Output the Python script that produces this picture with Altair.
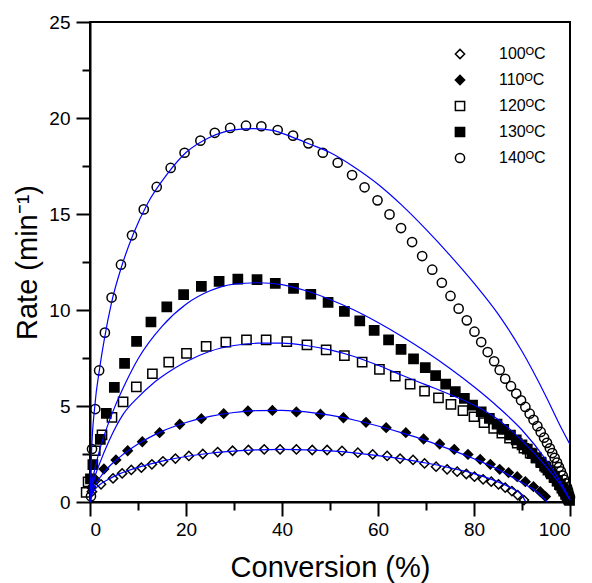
import altair as alt
import pandas as pd

labels = ["100ᴼC", "110ᴼC", "120ᴼC", "130ᴼC", "140ᴼC"]
shapes = ["diamond", "diamond", "square", "square", "circle"]
fills = ["transparent", "black", "transparent", "black", "transparent"]
strokes = ["black", "black", "black", "black", "black"]
sizes = [85, 85, 80, 80, 115]

# measured points (conversion %, rate min^-1)
conv_100 = [0.4, 2.3, 4.8, 6.7, 8.6, 10.7, 12.9, 15.2, 17.8, 20.6, 23.5, 26.6, 29.7, 33.0, 36.3, 39.6,
            43.0, 46.3, 49.4, 52.5, 55.8, 58.9, 61.9, 64.6, 67.3, 69.7, 72.1, 74.4, 76.5, 78.4, 80.1,
            81.9, 83.6, 85.1, 86.5, 87.9, 89.1, 90.4]
rate_100 = [0.54, 0.92, 1.23, 1.49, 1.67, 1.79, 1.96, 2.12, 2.26, 2.4, 2.5, 2.6, 2.67, 2.71, 2.74, 2.74,
            2.74, 2.71, 2.71, 2.66, 2.57, 2.48, 2.4, 2.26, 2.19, 2.01, 1.84, 1.7, 1.58, 1.46, 1.32,
            1.18, 1.06, 0.92, 0.75, 0.57, 0.36, 0.1]

conv_110 = [0.3, 1.0, 2.9, 5.4, 7.85, 10.9, 14.5, 18.7, 23.2, 27.85, 32.9, 38.0, 43.0, 48.0, 52.8, 57.5,
            61.7, 65.8, 69.5, 72.85, 75.9, 78.75, 81.3, 83.4, 85.35, 87.2, 89.0, 90.7, 92.4, 93.8, 94.9]
rate_110 = [0.75, 1.2, 1.72, 2.19, 2.67, 3.14, 3.61, 4.05, 4.34, 4.6, 4.74, 4.77, 4.69, 4.57, 4.39, 4.15,
            3.87, 3.61, 3.28, 3.02, 2.74, 2.48, 2.22, 1.96, 1.7, 1.53, 1.32, 1.06, 0.8, 0.54, 0.28]

conv_120 = [-0.8, -0.4, 1.1, 2.5, 4.58, 6.9, 9.65, 13.0, 16.4, 20.1, 24.2, 28.3, 32.6, 36.7, 41.0, 45.2,
            49.2, 53.0, 56.7, 60.3, 63.6, 66.7, 69.7, 72.6, 75.2, 77.7, 80.0, 82.1, 84.1, 85.8, 87.4,
            89.0, 90.4, 91.7, 92.9, 94.0, 95.0, 95.9, 96.7, 97.4, 98.0, 98.6, 99.1, 99.5, 99.8]
rate_120 = [0.5, 1.05, 2.67, 3.5, 4.41, 5.22, 6.0, 6.68, 7.29, 7.74, 8.11, 8.33, 8.44, 8.44, 8.35, 8.18,
            7.92, 7.62, 7.29, 6.91, 6.55, 6.14, 5.77, 5.42, 5.09, 4.76, 4.44, 4.13, 3.84, 3.58, 3.32,
            3.06, 2.8, 2.55, 2.3, 2.05, 1.8, 1.56, 1.32, 1.1, 0.88, 0.66, 0.46, 0.28, 0.12]

conv_130 = [0.1, 0.6, 2.15, 3.4, 5.07, 7.2, 9.7, 12.7, 16.0, 19.5, 23.2, 26.9, 30.8, 34.8, 38.6, 42.4,
            46.0, 49.6, 53.0, 56.2, 59.2, 62.2, 64.8, 67.4, 69.85, 72.0, 74.1, 76.1, 78.0, 79.7, 81.5,
            83.2, 84.8, 86.2, 87.6, 88.8, 90.0, 91.1, 92.1, 93.0, 93.9, 94.7, 95.4, 96.1, 96.7, 97.3,
            97.8, 98.3, 98.7, 99.1, 99.4, 99.7, 99.9]
rate_130 = [1.2, 1.95, 3.26, 4.62, 5.97, 7.22, 8.37, 9.375, 10.16, 10.8, 11.23, 11.49, 11.61, 11.58, 11.39, 11.13,
            10.82, 10.4, 9.93, 9.43, 8.94, 8.44, 7.95, 7.45, 7.0, 6.58, 6.14, 5.75, 5.4, 5.05, 4.7,
            4.36, 4.06, 3.78, 3.49, 3.23, 2.98, 2.75, 2.52, 2.3, 2.08, 1.87, 1.66, 1.46, 1.27, 1.08,
            0.9, 0.72, 0.56, 0.4, 0.28, 0.16, 0.08]

conv_140 = [0.2, 0.42, 1.1, 1.9, 3.1, 4.5, 6.45, 8.75, 11.2, 13.9, 16.8, 19.7, 23.0, 26.0, 29.2, 32.5,
            35.7, 39.1, 42.3, 45.5, 48.5, 51.6, 54.6, 57.2, 59.9, 62.4, 64.8, 67.1, 69.2, 71.3, 73.3,
            75.1, 76.8, 78.5, 80.1, 81.5, 82.85, 84.2, 85.35, 86.5, 87.7, 88.8, 89.8, 90.7, 91.6, 92.4,
            93.2, 93.9, 94.6, 95.2, 95.8, 96.3, 96.8, 97.3, 97.7, 98.1, 98.5, 98.8, 99.1, 99.4, 99.6,
            99.8, 100.0]
rate_140 = [0.3, 2.76, 4.84, 6.85, 8.82, 10.65, 12.36, 13.89, 15.24, 16.41, 17.4, 18.19, 18.82, 19.23, 19.48, 19.6,
            19.57, 19.375, 19.08, 18.68, 18.19, 17.67, 17.03, 16.39, 15.71, 14.98, 14.27, 13.54, 12.81, 12.1, 11.42,
            10.73, 10.07, 9.46, 8.87, 8.33, 7.81, 7.33, 6.875, 6.42, 6.03, 5.65, 5.3, 4.95, 4.6, 4.28,
            3.95, 3.65, 3.35, 3.08, 2.8, 2.55, 2.3, 2.05, 1.82, 1.6, 1.37, 1.17, 0.97, 0.76, 0.6,
            0.42, 0.25]

# fitted model curves
fit_x_100 = [0, 0.5, 1, 2, 4, 6, 8, 10, 15, 20, 25, 30, 35, 40, 45, 50, 55, 60, 65, 70, 75, 80, 85, 88, 90, 90.8]
fit_y_100 = [0, 0.45, 0.65, 0.9, 1.2, 1.45, 1.64, 1.8, 2.13, 2.37, 2.54, 2.65, 2.72, 2.74, 2.72, 2.66, 2.56,
             2.42, 2.25, 2.03, 1.78, 1.48, 1.05, 0.7, 0.35, 0]

fit_x_110 = [0, 0.5, 1, 2, 4, 6, 8, 10, 15, 20, 25, 30, 35, 40, 45, 50, 55, 60, 65, 70, 75, 80, 85, 90, 93, 95.3]
fit_y_110 = [0, 0.55, 0.85, 1.25, 1.85, 2.3, 2.68, 3.02, 3.68, 4.14, 4.46, 4.66, 4.76, 4.77, 4.69, 4.52, 4.27,
             3.96, 3.6, 3.2, 2.74, 2.25, 1.7, 1.0, 0.55, 0]

fit_x_120 = [0, 0.5, 1, 2, 4, 7, 10, 13, 16, 20, 25, 30, 35, 40, 45, 50, 55, 60, 65, 70, 75, 80, 85, 90, 95, 98, 100]
fit_y_120 = [0, 0.8, 1.3, 2.0, 3.2, 4.6, 5.45, 6.15, 6.7, 7.3, 7.85, 8.15, 8.27, 8.27, 8.15, 7.92, 7.58,
             7.12, 6.6, 6.1, 5.6, 5.05, 4.3, 3.2, 1.85, 0.9, 0.1]

fit_x_130 = [0, 0.5, 1, 2, 3, 5, 7.5, 10, 15, 20, 25, 30, 35, 40, 45, 50, 55, 60, 65, 70, 75, 80, 85, 90, 95, 98, 100]
fit_y_130 = [0, 1.1, 1.7, 2.7, 3.5, 4.85, 6.25, 7.45, 9.15, 10.3, 11.0, 11.35, 11.42, 11.32, 11.0, 10.55, 10.0,
             9.35, 8.62, 7.82, 6.95, 6.0, 4.95, 3.75, 2.2, 1.05, 0.1]

fit_x_140 = [0, 0.3, 1, 2, 3, 4.5, 6.5, 9, 12, 16, 20, 25, 30, 34, 38, 42, 46, 50, 55, 60, 65, 70, 75, 80,
             85, 90, 95, 98, 100]
fit_y_140 = [0, 2.5, 5.0, 6.95, 8.5, 10.4, 12.2, 13.95, 15.55, 17.05, 18.2, 19.0, 19.38, 19.45, 19.36, 19.02,
             18.62, 18.2, 17.45, 16.55, 15.45, 14.2, 12.85, 11.4, 9.8, 7.85, 5.5, 3.95, 3.0]

x_ticks = [0, 10, 20, 30, 40, 50, 60, 70, 80, 90, 100]
y_ticks = [0, 2.5, 5, 7.5, 10, 12.5, 15, 17.5, 20, 22.5, 25]

FONT = "Liberation Sans"

pts_rows = []
for lab, cx, ry in zip(labels, [conv_100, conv_110, conv_120, conv_130, conv_140],
                       [rate_100, rate_110, rate_120, rate_130, rate_140]):
    for a, b in zip(cx, ry):
        pts_rows.append({"series": lab, "conv": a, "rate": b})
pts = pd.DataFrame(pts_rows)

fit_rows = []
for lab, fx, fy in zip(labels, [fit_x_100, fit_x_110, fit_x_120, fit_x_130, fit_x_140],
                       [fit_y_100, fit_y_110, fit_y_120, fit_y_130, fit_y_140]):
    for a, b in zip(fx, fy):
        fit_rows.append({"series": lab, "conv": a, "rate": b})
fits = pd.DataFrame(fit_rows)

xscale = alt.Scale(domain=[0, 100], nice=False, zero=False)
yscale = alt.Scale(domain=[0, 25], nice=False, zero=False)

legend = alt.Legend(
    title=None, orient="none", legendX=362, legendY=24, padding=0,
    symbolStrokeWidth=1.5, symbolOpacity=1,
    labelFont="Liberation Sans, DejaVu Sans", labelFontSize=16, labelOffset=31, rowPadding=10,
    labelColor="black",
)

common_axis = dict(
    tickWidth=2, domainWidth=2, labelFontSize=19, titleFontSize=29, grid=False,
    labelFont=FONT, titleFont=FONT, titleFontWeight="normal", domainColor="black",
    tickColor="black", labelColor="black", titleColor="black",
)

points = alt.Chart(pts).mark_point(filled=True, strokeWidth=1.5, opacity=1).encode(
    x=alt.X("conv:Q", scale=xscale, axis=alt.Axis(
        values=x_ticks, title="Conversion (%)", orient="bottom",
        labelExpr="datum.value % 20 == 0 ? datum.label : ''",
        tickSize={"condition": {"test": "datum.value % 20 == 0", "value": 14}, "value": 8},
        labelPadding=4, titlePadding=14, **common_axis)),
    y=alt.Y("rate:Q", scale=yscale, axis=alt.Axis(
        values=y_ticks, title="Rate (min⁻¹)", orient="left",
        labelExpr="datum.value % 5 == 0 ? datum.label : ''",
        tickSize={"condition": {"test": "datum.value % 5 == 0", "value": 14}, "value": 8},
        labelPadding=6, titlePadding=6, **common_axis)),
    shape=alt.Shape("series:N", scale=alt.Scale(domain=labels, range=shapes), legend=legend),
    fill=alt.Fill("series:N", scale=alt.Scale(domain=labels, range=fills), legend=legend),
    stroke=alt.Stroke("series:N", scale=alt.Scale(domain=labels, range=strokes), legend=legend),
    size=alt.Size("series:N", scale=alt.Scale(domain=labels, range=sizes), legend=legend),
)

lines = alt.Chart(fits).mark_line(color="#0000ff", strokeWidth=1.2, interpolate="monotone").encode(
    x=alt.X("conv:Q", scale=xscale),
    y=alt.Y("rate:Q", scale=yscale),
    detail="series:N",
)

chart = alt.layer(points, lines).properties(width=480, height=480).configure_view(
    stroke="black", strokeWidth=2
)

chart.save("out.html", embed_options={"renderer": "svg", "actions": False})
